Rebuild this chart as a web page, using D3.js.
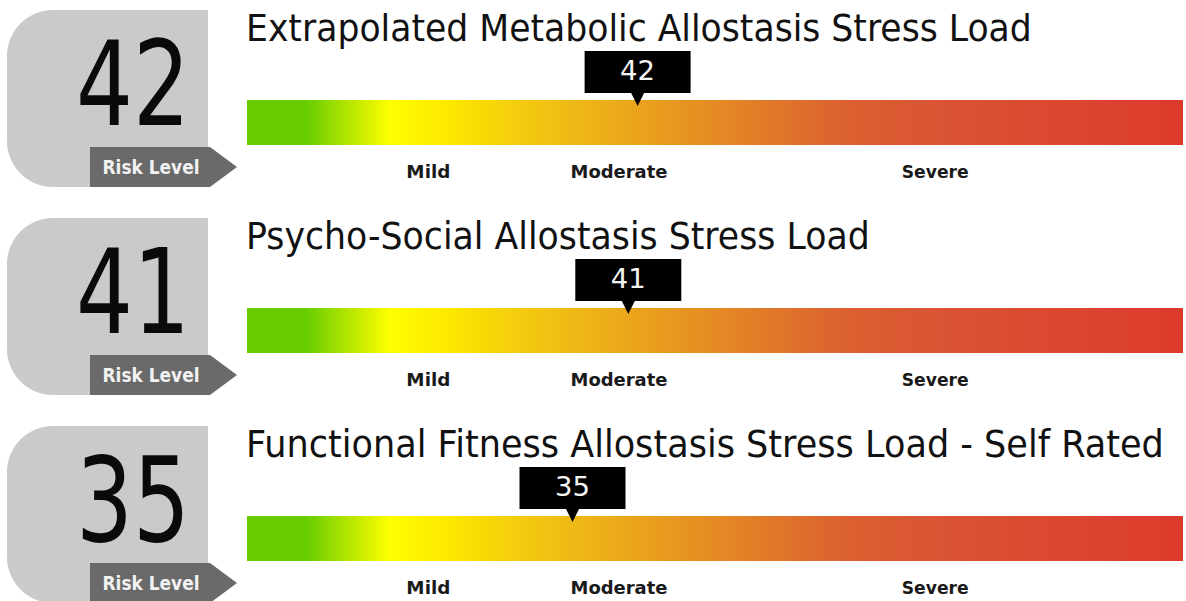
<!DOCTYPE html>
<html>
<head>
<meta charset="utf-8">
<script src="https://cdn.jsdelivr.net/npm/d3@7"></script>
<style>
  html, body { margin: 0; padding: 0; background: #fff; }
  svg { display: block; font-family: "DejaVu Sans", Verdana, sans-serif; }
</style>
</head>
<body>
<svg id="chart"></svg>
<script>
// chart values
const panelTitles = [
    "Extrapolated Metabolic Allostasis Stress Load",
    "Psycho-Social Allostasis Stress Load",
    "Functional Fitness Allostasis Stress Load - Self Rated"
];
const riskScores = [42, 41, 35];
const zoneLabels = ["Mild", "Moderate", "Severe"];
const zoneCenters = [19.5, 40, 74];
const scoreDomain = [0, 100];
const badgeLabel = "Risk Level";

// general settings
const sg = { width: 1186, height: 601, panelStep: 208 };

// settings for the gauge rows
const s = {
    barX: 247, barW: 936, barY: 100, barH: 45,
    badgeX: 7, badgeY: 10, badgeW: 201, badgeH: 177, badgeR: 46,
    badgeFill: "#cacaca", tagFill: "#6a6a6a",
    titleWidths: [786, 624, 918],
    zoneWidths: [44, 97, 67],
    stops: [
        [0.00, "#66cc00"], [0.062, "#66cc00"], [0.153, "#ffff00"],
        [0.22, "#fce600"], [0.31, "#f2c512"], [0.42, "#eaa21c"],
        [0.52, "#e48426"], [0.64, "#db6030"], [0.76, "#d95234"],
        [0.90, "#dc4430"], [1.00, "#dd3a2c"]
    ]
};

function leftRoundRect(x, y, w, h, r) {
    const p = d3.path();
    p.moveTo(x + r, y);
    p.lineTo(x + w, y);
    p.lineTo(x + w, y + h);
    p.lineTo(x + r, y + h);
    p.arcTo(x, y + h, x, y + h - r, r);
    p.lineTo(x, y + r);
    p.arcTo(x, y, x + r, y, r);
    p.closePath();
    return p.toString();
}

// squeeze a text horizontally so it spans "w" pixels, anchored like text-anchor says
function fitText(sel, x, y, w, anchor) {
    sel.each(function(d, i) {
        const t = d3.select(this);
        const target = typeof w === 'function' ? w(d, i) : w;
        const cx = typeof x === 'function' ? x(d, i) : x;
        const natural = this.getComputedTextLength();
        t.attr('text-anchor', anchor || 'start')
            .attr('transform', `translate(${cx},${y}) scale(${target / natural},1)`);
    });
}

function gauges() {
    const si = {};

    function component(selection) {
        selection.each(function(data) {
            si.svg = d3.select(this)
                .attr('width', sg.width)
                .attr('height', sg.height);

            // shared colour ramp for the bars
            si.svg.append('defs').append('linearGradient')
                .attr('id', 'ramp')
                .attr('x1', '0%').attr('x2', '100%')
                .selectAll('stop')
                .data(s.stops)
                .join('stop')
                .attr('offset', d => d[0])
                .attr('stop-color', d => d[1]);

            si.x = d3.scaleLinear().domain(scoreDomain).range([s.barX, s.barX + 930]);

            si.rows = si.svg.selectAll('g.row')
                .data(data)
                .join('g')
                .attr('class', 'row')
                .attr('transform', (d, i) => `translate(0,${i * sg.panelStep})`);
        });
        component.update(selection);
    }

    component.update = function(selection) {
        const x = si.x;
        const rows = si.rows;

        // grey badge with the score
        rows.append('path')
            .attr('d', leftRoundRect(s.badgeX, s.badgeY, s.badgeW, s.badgeH, s.badgeR))
            .style('fill', s.badgeFill);

        rows.append('text')
            .style('font-size', '117px')
            .style('fill', '#0a0a0a')
            .text(d => d.score)
            .call(fitText, 133, 125, 114, 'middle');

        // "Risk Level" tag
        rows.append('path')
            .attr('d', 'M90,147 L210,147 L237,167 L210,187 L90,187 Z')
            .style('fill', s.tagFill);

        rows.append('text')
            .style('font-size', '20px')
            .style('font-weight', 'bold')
            .style('fill', '#f2f2f2')
            .text(badgeLabel)
            .call(fitText, 151, 174, 97, 'middle');

        // title
        rows.append('text')
            .style('font-size', '37px')
            .style('fill', '#111')
            .text(d => d.title)
            .call(fitText, s.barX - 1, 41, (d, i) => s.titleWidths[i], 'start');

        // gradient bar
        rows.append('rect')
            .attr('x', s.barX).attr('y', s.barY)
            .attr('width', s.barW).attr('height', s.barH)
            .style('fill', 'url(#ramp)');

        // score marker
        const marker = rows.append('g')
            .attr('transform', d => `translate(${x(d.score)},0)`);

        marker.append('rect')
            .attr('x', -53).attr('y', 51)
            .attr('width', 106).attr('height', 42)
            .style('fill', '#000');

        marker.append('path')
            .attr('d', 'M-7,92 L7,92 L0,106 Z')
            .style('fill', '#000');

        marker.append('text')
            .style('font-size', '26px')
            .style('fill', '#f4f4f4')
            .text(d => d.score)
            .call(fitText, 0, 80, 35, 'middle');

        // zone labels under the bar
        rows.selectAll('text.zone')
            .data(zoneLabels.map((l, i) => ({ label: l, at: zoneCenters[i], w: s.zoneWidths[i] })))
            .join('text')
            .attr('class', 'zone')
            .style('font-size', '17px')
            .style('font-weight', 'bold')
            .style('fill', '#1a1a1a')
            .text(d => d.label)
            .call(fitText, d => x(d.at), 178, d => d.w, 'middle');
    };

    return component;
}

const rowsData = panelTitles.map((t, i) => ({ title: t, score: riskScores[i] }));
d3.select('#chart').datum(rowsData).call(gauges());
</script>
</body>
</html>
